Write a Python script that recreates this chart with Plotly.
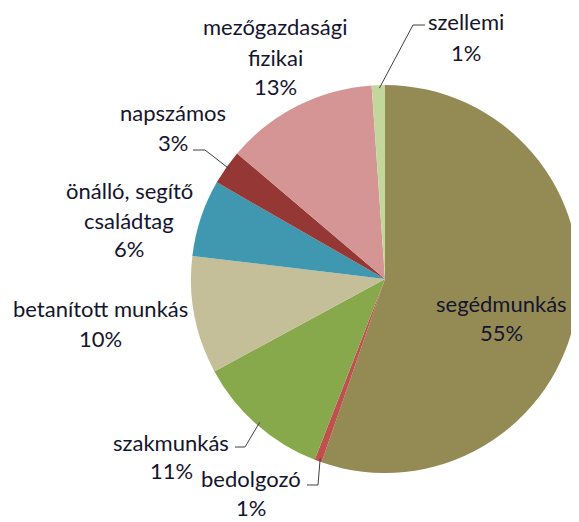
import math
import plotly.graph_objects as go

# slice order: clockwise from 12 o'clock
categories = ["segédmunkás", "bedolgozó", "szakmunkás", "betanított munkás",
              "önálló, segítő családtag", "napszámos", "mezőgazdasági fizikai", "szellemi"]
values = [55.3, 0.6, 11.2, 9.8, 6.4, 2.9, 12.7, 1.1]
colors = ["#948B54", "#C0504D", "#87A94C", "#C4BE99",
          "#3F97B0", "#953835", "#D49594", "#C3D69B"]

# page has an 8px body margin, so the figure is drawn 8px in from the corner
OFF = 8
W, H = 579 - OFF, 522 - OFF
CX, CY, R = 386, 279, 193

# label blocks: (line texts, center x, line y's) in page pixels
label_lines = {
    "segédmunkás": (["segédmunkás"], 501, [303, 332]),
    "bedolgozó": (["bedolgozó"], 251, [478, 507]),
    "szakmunkás": (["szakmunkás"], 171, [442, 470]),
    "betanított munkás": (["betanított munkás"], 100, [308, 338]),
    "önálló, segítő családtag": (["önálló, segítő", "családtag"], 129, [190, 220, 248]),
    "napszámos": (["napszámos"], 173, [113, 143]),
    "mezőgazdasági fizikai": (["mezőgazdasági", "fizikai"], 275, [27, 57, 86]),
    "szellemi": (["szellemi"], 466, [21, 52]),
}
# leader lines: label end -> elbow, then to slice edge
leaders = {
    "szellemi": ((425, 25), (413, 25)),
    "napszámos": ((193, 150), (205, 150)),
    "szakmunkás": ((235, 447), (245, 447)),
    "bedolgozó": ((307, 485), (318, 485)),
}


def px(x):
    return min(max((x - OFF) / W, 0), 1)


def py(y):
    return min(max(1 - (y - OFF) / H, 0), 1)


fig = go.Figure(go.Pie(
    labels=categories,
    values=values,
    sort=False,
    direction="clockwise",
    rotation=0,
    marker=dict(colors=colors, line=dict(width=0)),
    textinfo="none",
    hoverinfo="label+percent",
    domain=dict(x=[px(CX - R - 2), px(CX + R + 2)], y=[py(CY + R + 2), py(CY - R - 2)]),
))

total = sum(values)
font = dict(family="Lato, Open Sans, sans-serif", size=22, color="#15152e")
annotations = []
shapes = []
cum = 0
for name, v in zip(categories, values):
    mid = (cum + v / 2) / total * 2 * math.pi
    cum += v
    lines, lx, ys = label_lines[name]
    texts = lines + [f"{round(v / total * 100)}%"]
    for t, y in zip(texts, ys):
        annotations.append(dict(text=t, x=px(lx), y=py(y), xref="paper", yref="paper",
                                showarrow=False, font=font, xanchor="center", yanchor="middle",
                                borderpad=0))
    if name in leaders:
        (x0, y0), (x1, y1) = leaders[name]
        ex = CX + (R - 2) * math.sin(mid)
        ey = CY - (R - 2) * math.cos(mid)
        shapes.append(dict(type="path", xref="paper", yref="paper",
                           path=f"M {px(x0)} {py(y0)} L {px(x1)} {py(y1)} L {px(ex)} {py(ey)}",
                           line=dict(color="#404040", width=1)))

fig.update_layout(
    width=W, height=H,
    margin=dict(l=0, r=0, t=0, b=0),
    showlegend=False,
    paper_bgcolor="white",
    annotations=annotations,
    shapes=shapes,
)
fig.write_html("out.html")
